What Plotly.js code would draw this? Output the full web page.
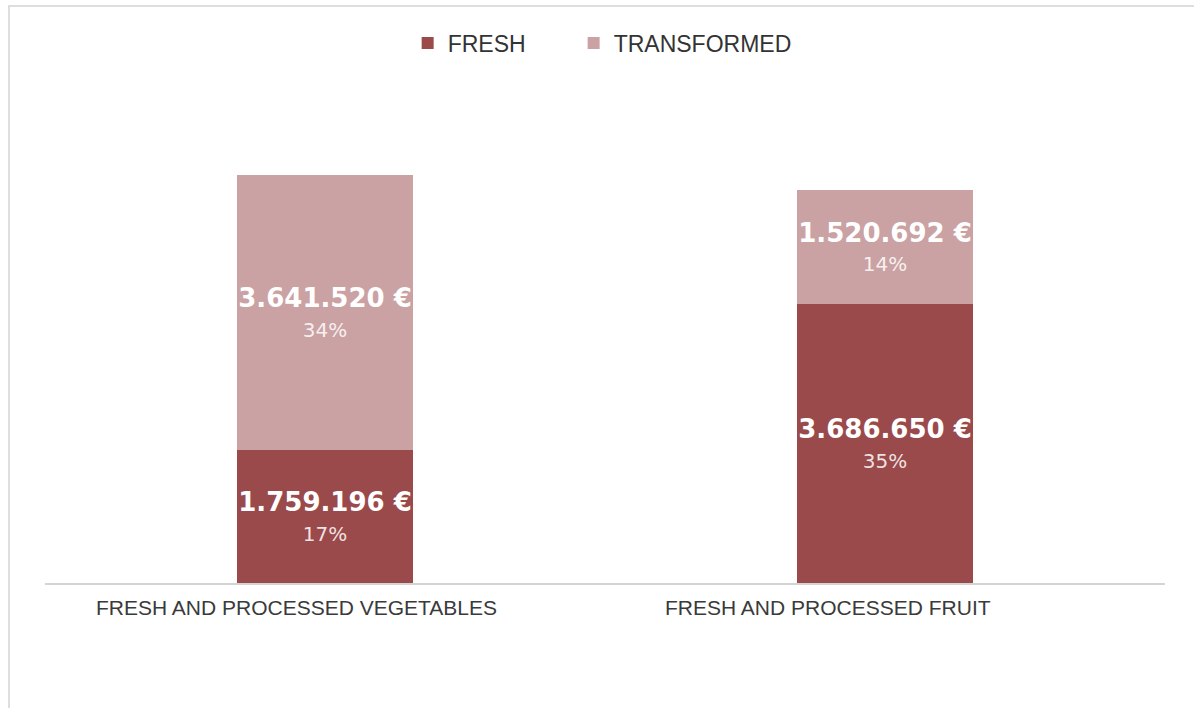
<!DOCTYPE html>
<html>
<head>
<meta charset="utf-8">
<script src="https://cdn.plot.ly/plotly-3.0.1.min.js"></script>
<style>
html,body{margin:0;padding:0;background:#fff;}
#wrap{position:relative;width:1194px;height:708px;}
#chart{width:1194px;height:708px;}
#frame{position:absolute;left:8px;top:5px;width:1200px;height:720px;border-left:2px solid #dedede;border-top:2px solid #dedede;pointer-events:none;}
</style>
</head>
<body>
<div id="wrap"><div id="chart"></div><div id="frame"></div></div>
<script>
const categories = ["FRESH AND PROCESSED VEGETABLES", "FRESH AND PROCESSED FRUIT"];
const seriesNames = ["FRESH", "TRANSFORMED"];
const freshValues = [1759196, 3686650];
const transformedValues = [3641520, 1520692];
const freshLabels = ["1.759.196 €", "3.686.650 €"];
const transformedLabels = ["3.641.520 €", "1.520.692 €"];
const freshPct = ["17%", "35%"];
const transformedPct = ["34%", "14%"];

function mkText(vals, pcts) {
  return vals.map((v, i) => '<b><span style="font-size:26px">' + v + '</span></b><br><span style="font-size:20px;color:rgba(255,255,255,0.85)">' + pcts[i] + '</span>');
}

const common = {
  type: 'bar',
  x: categories,
  textposition: 'inside',
  insidetextanchor: 'middle',
  constraintext: 'none',
  textangle: 0,
  hoverinfo: 'skip',
  textfont: {family: 'DejaVu Sans', size: 23, color: '#ffffff'}
};

const data = [
  Object.assign({}, common, {
    name: seriesNames[0], y: freshValues,
    text: mkText(freshLabels, freshPct),
    marker: {color: '#9b4a4c'},
    legend: 'legend'
  }),
  Object.assign({}, common, {
    name: seriesNames[1], y: transformedValues,
    text: mkText(transformedLabels, transformedPct),
    marker: {color: '#cba2a4'},
    legend: 'legend2'
  })
];

const legendFont = {family: 'Liberation Sans, Arial', size: 23, color: '#333333'};

const layout = {
  width: 1194, height: 708,
  margin: {l: 45, r: 29, t: 80, b: 125},
  barmode: 'stack',
  bargap: 0.684,
  paper_bgcolor: '#ffffff',
  plot_bgcolor: '#ffffff',
  showlegend: true,
  legend: {
    orientation: 'h', x: 0.3238, xanchor: 'left', y: 1.116, yanchor: 'top',
    font: legendFont, bgcolor: 'rgba(0,0,0,0)'
  },
  legend2: {
    orientation: 'h', x: 0.472, xanchor: 'left', y: 1.116, yanchor: 'top',
    font: legendFont, bgcolor: 'rgba(0,0,0,0)'
  },
  xaxis: {
    type: 'category', range: [-0.5, 1.5],
    showticklabels: false, ticks: '',
    showline: true, linecolor: '#d4d4d4', linewidth: 2,
    showgrid: false, zeroline: false, fixedrange: true
  },
  yaxis: {
    range: [0, 6658000], visible: false, showgrid: false, zeroline: false, fixedrange: true
  },
  annotations: categories.map((c, i) => ({
    x: c, xref: 'x', y: 0, yref: 'y', yanchor: 'top', xanchor: 'center',
    yshift: -11, xshift: i === 0 ? -29 : -57,
    text: c, showarrow: false,
    font: {family: 'Liberation Sans, Arial', size: 21, color: '#3a3a3a'}
  }))
};

Plotly.newPlot('chart', data, layout, {displayModeBar: false, staticPlot: true});
</script>
</body>
</html>
